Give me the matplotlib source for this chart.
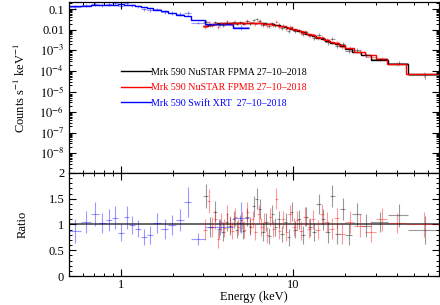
import numpy as np
import matplotlib
matplotlib.use('Agg')
import matplotlib.pyplot as plt
from matplotlib.ticker import FixedLocator, LogLocator, MultipleLocator, FuncFormatter, NullFormatter

plt.rcParams['font.family'] = ['Liberation Serif', 'DejaVu Serif']
plt.rcParams['mathtext.fontset'] = 'stix'

# Swift XRT: bin edges (keV), folded model (counts/s/keV), data/model ratio and error
xrt_edges = [0.5, 0.585, 0.67, 0.745, 0.815, 0.885, 0.96, 1.04, 1.12, 1.2, 1.3,
             1.42, 1.54, 1.7, 1.88, 2.08, 2.32, 2.55, 3.07, 4.45, 5.5]
xrt_model = [0.145, 0.15, 0.155, 0.16, 0.165, 0.17, 0.178, 0.17, 0.16, 0.15,
             0.13, 0.115, 0.095, 0.08, 0.066, 0.055, 0.046, 0.03, 0.019, 0.012]
xrt_ratio = [0.87, 1.05, 1.2, 1.03, 1.09, 1.13, 0.84, 1.14, 0.99, 0.92,
             0.76, 0.8, 1.03, 0.91, 0.99, 1.09, 1.44, 0.72, 0.95, 1.13]
xrt_err = [0.23, 0.21, 0.23, 0.2, 0.22, 0.22, 0.17, 0.22, 0.18, 0.16,
           0.16, 0.17, 0.19, 0.19, 0.2, 0.21, 0.29, 0.11, 0.15, 0.3]

# NuSTAR FPMA
fpma_edges = [3.0, 3.2, 3.4, 3.6, 3.8, 4.0, 4.2, 4.4, 4.6, 4.8,
              5.0, 5.25, 5.5, 5.75, 6.0, 6.25, 6.5, 6.8, 7.1, 7.4,
              7.7, 8.0, 8.4, 8.8, 9.2, 9.6, 10.0, 10.5, 11.0, 11.6,
              12.2, 12.9, 13.6, 14.4, 15.3, 16.3, 17.4, 18.6, 20.0, 22.0,
              24.5, 28.0, 35.5, 46.0, 70.0]
fpma_model = [0.016, 0.018, 0.0195, 0.0205, 0.021, 0.0215, 0.022, 0.0222, 0.0224, 0.0225,
              0.0226, 0.0226, 0.0225, 0.0223, 0.022, 0.0216, 0.021, 0.0202, 0.0193, 0.0184,
              0.0175, 0.0164, 0.015, 0.0136, 0.0123, 0.0111, 0.0099, 0.0087, 0.0076, 0.0066,
              0.0057, 0.0049, 0.0042, 0.0035, 0.0029, 0.0024, 0.002, 0.0016, 0.0012, 0.00088,
              0.0006, 0.00036, 0.00021, 0.000068]
fpma_ratio = [1.55, 0.95, 1.25, 0.92, 0.85, 1.05, 0.97, 1.1, 0.9, 1.02,
              0.88, 1.15, 0.95, 1.35, 1.5, 1.3, 0.85, 1.05, 0.78, 1.2,
              0.95, 1.1, 0.82, 1.05, 0.75, 1.25, 0.9, 1.1, 0.8, 1.15,
              0.95, 0.85, 1.4, 1.1, 0.85, 1.55, 0.82, 1.3, 0.8, 1.2,
              0.98, 1.05, 1.18, 0.9]
fpma_err = [0.23, 0.2, 0.2, 0.18, 0.18, 0.18, 0.17, 0.17, 0.17, 0.17,
            0.16, 0.17, 0.16, 0.2, 0.2, 0.2, 0.17, 0.17, 0.16, 0.18,
            0.17, 0.17, 0.16, 0.17, 0.16, 0.19, 0.17, 0.18, 0.17, 0.18,
            0.18, 0.18, 0.2, 0.2, 0.2, 0.22, 0.2, 0.22, 0.2, 0.22,
            0.22, 0.2, 0.22, 0.27]

# NuSTAR FPMB
fpmb_edges = [3.0, 3.15, 3.3, 3.45, 3.6, 3.75, 3.9, 4.05, 4.2, 4.35,
              4.5, 4.7, 4.9, 5.1, 5.3, 5.5, 5.7, 5.9, 6.15, 6.4,
              6.65, 6.9, 7.2, 7.5, 7.8, 8.1, 8.5, 8.9, 9.3, 9.8,
              10.3, 10.8, 11.4, 12.0, 12.7, 13.4, 14.2, 15.1, 16.1, 17.2,
              18.5, 20.0, 22.5, 26.0, 30.0, 35.0, 45.0, 70.0]
fpmb_model = [0.0152, 0.0168, 0.018, 0.019, 0.0198, 0.0204, 0.0209, 0.0213, 0.0216, 0.0219,
              0.0221, 0.0223, 0.0224, 0.0224, 0.0223, 0.0222, 0.022, 0.0217, 0.0213, 0.0208,
              0.0202, 0.0195, 0.0187, 0.0178, 0.0169, 0.0158, 0.0146, 0.0134, 0.0121, 0.0108,
              0.0096, 0.0084, 0.0073, 0.0063, 0.0054, 0.0046, 0.0039, 0.0033, 0.0027, 0.0022,
              0.0018, 0.0013, 0.00088, 0.00058, 0.00038, 0.00021, 0.000068]
fpmb_ratio = [0.9, 1.45, 0.95, 1.1, 0.72, 1.05, 0.93, 1.2, 1.0, 0.88,
              1.15, 0.95, 1.08, 0.9, 1.25, 0.98, 1.1, 0.85, 1.2, 0.95,
              1.05, 0.8, 1.15, 0.92, 1.5, 0.88, 1.1, 0.85, 1.2, 0.95,
              1.08, 0.88, 1.15, 0.92, 1.1, 0.9, 1.2, 1.05, 0.92, 1.12,
              0.82, 1.05, 0.98, 0.86, 1.1, 1.03, 1.0]
fpmb_err = [0.2, 0.23, 0.2, 0.18, 0.17, 0.18, 0.17, 0.18, 0.17, 0.17,
            0.17, 0.16, 0.17, 0.16, 0.18, 0.17, 0.17, 0.16, 0.18, 0.17,
            0.17, 0.16, 0.17, 0.17, 0.2, 0.17, 0.17, 0.17, 0.18, 0.17,
            0.18, 0.18, 0.18, 0.19, 0.19, 0.19, 0.2, 0.2, 0.2, 0.2,
            0.2, 0.22, 0.22, 0.2, 0.22, 0.2, 0.24]

labels = ['Mrk 590 NuSTAR FPMA 27\u201310\u20132018',
          'Mrk 590 NuSTAR FPMB 27\u201310\u20132018',
          'Mrk 590 Swift XRT  27\u201310\u20132018']

fig = plt.figure(figsize=(4.4, 3.05), dpi=100)
ax_top = fig.add_axes([0.157, 0.433, 0.841, 0.561])
ax_rat = fig.add_axes([0.157, 0.095, 0.841, 0.338], sharex=ax_top)


def plot_spectrum(edges, model, ratio, err, color, label):
    edges = np.array(edges)
    model = np.array(model)
    ratio = np.array(ratio)
    err = np.array(err)
    centres = (edges[:-1] + edges[1:]) / 2
    xerr = [centres - edges[:-1], edges[1:] - centres]
    ax_top.errorbar(centres, model * ratio, xerr=xerr, yerr=model * err, fmt='none',
                    ecolor=color, alpha=0.4, lw=0.8)
    ax_top.stairs(model, edges, baseline=None, color=color, lw=1.0, label=label)
    ax_rat.errorbar(centres, ratio, xerr=xerr, yerr=err, fmt='none',
                    ecolor=color, alpha=0.4, lw=0.8)


plot_spectrum(fpma_edges, fpma_model, fpma_ratio, fpma_err, 'black', labels[0])
plot_spectrum(fpmb_edges, fpmb_model, fpmb_ratio, fpmb_err, 'red', labels[1])
plot_spectrum(xrt_edges, xrt_model, xrt_ratio, xrt_err, 'blue', labels[2])

ax_rat.axhline(1, color='0.35', lw=1.3, zorder=0)

ax_top.set_xscale('log')
ax_top.set_yscale('log')
ax_top.set_xlim(0.5, 70)
ax_top.set_ylim(1.1e-9, 0.23)
ax_rat.set_ylim(0, 2)


def log_fmt(v, pos):
    e = int(round(np.log10(v)))
    if e >= -2:
        return '%g' % v
    return r'$10^{%d}$' % e


ax_top.yaxis.set_major_locator(FixedLocator([10.0 ** k for k in range(-8, 0)]))
ax_top.yaxis.set_major_formatter(FuncFormatter(log_fmt))
ax_top.yaxis.set_minor_locator(LogLocator(base=10, subs=np.arange(2, 10), numticks=20))
ax_top.yaxis.set_minor_formatter(NullFormatter())

ax_rat.xaxis.set_major_locator(FixedLocator([1, 10]))
ax_rat.xaxis.set_major_formatter(FuncFormatter(lambda v, p: '%g' % v))
ax_rat.xaxis.set_minor_locator(LogLocator(base=10, subs=np.arange(2, 10), numticks=20))
ax_rat.xaxis.set_minor_formatter(NullFormatter())
ax_rat.yaxis.set_major_locator(MultipleLocator(0.5))
ax_rat.yaxis.set_major_formatter(FuncFormatter(lambda v, p: '%g' % v))
ax_rat.yaxis.set_minor_locator(MultipleLocator(0.1))

for ax in (ax_top, ax_rat):
    ax.tick_params(which='both', direction='in', top=True, right=True, labelsize=9)
    ax.tick_params(which='major', length=5, width=0.8)
    ax.tick_params(which='minor', length=2.5, width=0.7)
    for s in ax.spines.values():
        s.set_linewidth(0.9)
ax_top.tick_params(labelbottom=False)
ax_rat.tick_params(axis='x', pad=2)

ax_top.set_ylabel(r'Counts s$^{-1}$ keV$^{-1}$', fontsize=9)
ax_rat.set_ylabel('Ratio', fontsize=9)
ax_rat.set_xlabel('Energy (keV)', fontsize=9, labelpad=0)
ax_top.yaxis.set_label_coords(-0.11, 0.5)
ax_rat.yaxis.set_label_coords(-0.11, 0.5)

ax_top.legend(loc='upper left', bbox_to_anchor=(0.14, 0.615), frameon=False, fontsize=7.2,
              handlelength=3.0, handletextpad=0.05, labelspacing=0.65, borderpad=0,
              borderaxespad=0, labelcolor='linecolor')

fig.savefig('out.png', dpi=100)
